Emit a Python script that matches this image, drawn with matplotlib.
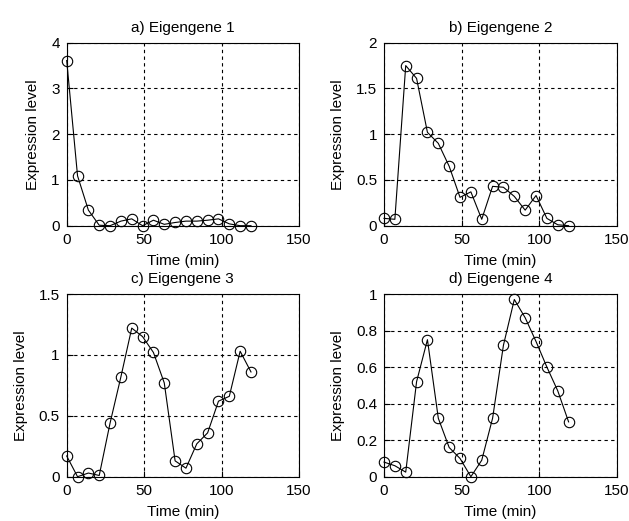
import matplotlib
matplotlib.use("Agg")
import matplotlib.pyplot as plt

time_min = [0, 7, 14, 21, 28, 35, 42, 49, 56, 63, 70, 77, 84, 91, 98, 105, 112, 119]

eigengene1 = [3.61, 1.09, 0.34, 0.01, 0.0, 0.10, 0.15, 0.0, 0.12, 0.03, 0.07, 0.10, 0.10, 0.12, 0.15, 0.04, 0.0, 0.0]
eigengene2 = [0.08, 0.07, 1.75, 1.61, 1.02, 0.90, 0.65, 0.31, 0.37, 0.07, 0.43, 0.42, 0.32, 0.17, 0.33, 0.08, 0.01, 0.0]
eigengene3 = [0.17, 0.0, 0.03, 0.01, 0.44, 0.82, 1.22, 1.15, 1.02, 0.77, 0.13, 0.07, 0.27, 0.36, 0.62, 0.66, 1.03, 0.86]
eigengene4 = [0.08, 0.06, 0.025, 0.52, 0.75, 0.32, 0.16, 0.10, 0.0, 0.09, 0.32, 0.72, 0.97, 0.87, 0.74, 0.60, 0.47, 0.30]

titles = ["a) Eigengene 1", "b) Eigengene 2", "c) Eigengene 3", "d) Eigengene 4"]
series = [eigengene1, eigengene2, eigengene3, eigengene4]
ylims = [(0, 4), (0, 2), (0, 1.5), (0, 1)]
yticks = [[0, 1, 2, 3, 4], [0, 0.5, 1, 1.5, 2], [0, 0.5, 1, 1.5], [0, 0.2, 0.4, 0.6, 0.8, 1]]
ytick_labels = [["0", "1", "2", "3", "4"], ["0", "0.5", "1", "1.5", "2"],
                ["0", "0.5", "1", "1.5"], ["0", "0.2", "0.4", "0.6", "0.8", "1"]]
xticks = [0, 50, 100, 150]

plt.rcParams['font.family'] = ['Liberation Sans', 'DejaVu Sans']
plt.rcParams['font.size'] = 11

fig = plt.figure(figsize=(6.29, 5.21), dpi=100)
W, H = 629, 521
boxes = [(66.7, 42.7, 299, 225.7), (384, 42.7, 616.7, 225.7),
         (66.7, 294, 299, 476.7), (384, 294, 616.7, 476.7)]

for i in range(4):
    x0, y0, x1, y1 = boxes[i]
    ax = fig.add_axes([x0 / W, 1 - y1 / H, (x1 - x0) / W, (y1 - y0) / H])
    ax.plot(time_min, series[i], color='black', lw=0.8, marker='o', markersize=7.5,
            markerfacecolor='none', markeredgecolor='black', markeredgewidth=0.8,
            clip_on=False, zorder=3)
    ax.set_xlim(0, 150)
    ax.set_ylim(*ylims[i])
    ax.set_xticks(xticks)
    ax.set_xticklabels([str(t) for t in xticks])
    ax.set_yticks(yticks[i])
    ax.set_yticklabels(ytick_labels[i])
    ax.grid(True, color='black', linestyle=(0, (3, 3)), linewidth=0.8)
    ax.tick_params(direction='in', length=4, color='black', width=0.8, pad=5)
    for s in ax.spines.values():
        s.set_linewidth(0.8)
        s.set_color('black')
    ax.set_title(titles[i], fontsize=11, pad=8)
    ax.set_xlabel("Time (min)", labelpad=5)
    ax.set_ylabel("Expression level", labelpad=8)

fig.savefig("out.png", dpi=100)
